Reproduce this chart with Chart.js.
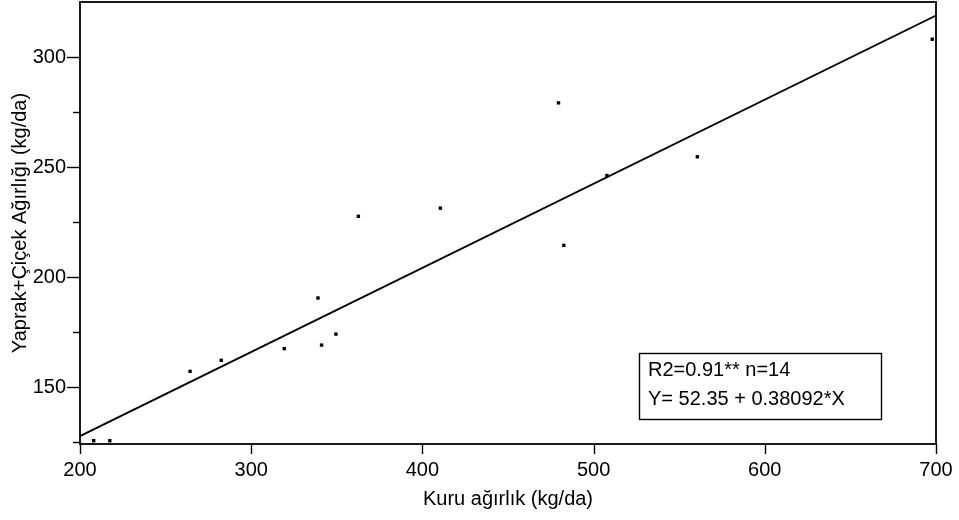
<!DOCTYPE html>
<html>
<head>
<meta charset="utf-8">
<script src="https://cdn.jsdelivr.net/npm/chart.js@4"></script>
<style>
  html, body { margin: 0; padding: 0; background: #fff; }
  #wrap { width: 959px; height: 520px; }
</style>
</head>
<body>
<div id="wrap"><canvas id="chart" width="959" height="520"></canvas></div>
<script>
// observed points (kuru agirlik, yaprak+cicek agirligi)
const kuruAgirlik = [208, 217.4, 264.3, 282.5, 319.3, 339, 341.1, 349.5, 362.6, 410.5, 479.5, 482.6, 507.8, 560.6, 697.8]
const yaprakCicek = [125.8, 125.8, 157.3, 162.3, 167.6, 190.6, 169.2, 174.2, 227.7, 231.4, 279.2, 214.5, 246.2, 254.7, 308.1]

// regression line end points as drawn
const fitX = [200, 700]
const fitY = [127.9, 318.9]

const xTicks = [200, 300, 400, 500, 600, 700]
const yTicks = [125, 150, 175, 200, 225, 250, 275, 300]

const statLines = ['R2=0.91** n=14', 'Y= 52.35 + 0.38092*X']

const FONT = "'Liberation Sans', Arial, sans-serif"

const framePlugin = {
  id: 'frame',
  afterDraw(chart) {
    const ctx = chart.ctx
    const a = chart.chartArea
    const xs = chart.scales.x
    const ys = chart.scales.y
    ctx.save()
    ctx.strokeStyle = '#000'
    ctx.lineWidth = 1.8
    ctx.strokeRect(a.left, a.top, a.right - a.left, a.bottom - a.top)

    // x ticks (below axis)
    ctx.lineWidth = 1.4
    xTicks.forEach((v) => {
      const px = Math.round(xs.getPixelForValue(v)) + 0.5
      ctx.beginPath()
      ctx.moveTo(px, a.bottom)
      ctx.lineTo(px, a.bottom + 10)
      ctx.stroke()
    })
    // y ticks, long on 50s, short in between
    yTicks.forEach((v) => {
      const py = Math.round(ys.getPixelForValue(v)) + 0.5
      const len = v % 50 === 0 ? 13 : 7
      ctx.beginPath()
      ctx.moveTo(a.left - len, py)
      ctx.lineTo(a.left, py)
      ctx.stroke()
    })

    // stats box
    const bx = 639, by = 353, bw = 242, bh = 66
    ctx.fillStyle = '#fff'
    ctx.fillRect(bx, by, bw, bh)
    ctx.lineWidth = 1.4
    ctx.strokeRect(bx + 0.5, by + 0.5, bw, bh)
    ctx.fillStyle = '#000'
    ctx.font = '20px ' + FONT
    ctx.textBaseline = 'middle'
    ctx.textAlign = 'left'
    ctx.fillText(statLines[0], bx + 9, by + 17)
    ctx.fillText(statLines[1], bx + 9, by + 46)
    ctx.restore()
  }
}

new Chart(document.getElementById('chart'), {
  type: 'scatter',
  data: {
    datasets: [
      {
        label: 'Gözlem',
        data: kuruAgirlik.map((x, i) => ({ x: x, y: yaprakCicek[i] })),
        backgroundColor: '#000',
        borderColor: '#000',
        pointRadius: 2.4,
        pointStyle: 'rect',
        pointBorderWidth: 0
      },
      {
        label: 'Regresyon',
        type: 'line',
        data: fitX.map((x, i) => ({ x: x, y: fitY[i] })),
        borderColor: '#000',
        borderWidth: 1.8,
        pointRadius: 0,
        fill: false
      }
    ]
  },
  options: {
    responsive: false,
    animation: false,
    layout: { autoPadding: false, padding: { top: 2, right: 23, left: 0, bottom: 0 } },
    plugins: {
      legend: { display: false },
      tooltip: { enabled: false }
    },
    scales: {
      x: {
        type: 'linear',
        min: 200,
        max: 700,
        afterBuildTicks: (s) => { s.ticks = xTicks.map((v) => ({ value: v })) },
        afterFit: (s) => {
          s.height = 76
          s.paddingLeft = 0
          s.paddingRight = 0
        },
        grid: { display: false, drawTicks: false },
        border: { display: false },
        ticks: { color: '#000', font: { family: FONT, size: 20 }, padding: 14, maxRotation: 0 },
        title: {
          display: true,
          text: 'Kuru ağırlık (kg/da)',
          color: '#000',
          font: { family: FONT, size: 20 },
          padding: { top: 0, bottom: 9 }
        }
      },
      y: {
        type: 'linear',
        min: 124.3,
        max: 325,
        afterBuildTicks: (s) => { s.ticks = yTicks.map((v) => ({ value: v })) },
        afterFit: (s) => {
          s.width = 80
          s.paddingTop = 0
          s.paddingBottom = 0
        },
        grid: { display: false, drawTicks: false },
        border: { display: false },
        ticks: {
          color: '#000',
          font: { family: FONT, size: 20 },
          padding: 14,
          callback: (v) => (v % 50 === 0 ? String(v) : '')
        },
        title: {
          display: true,
          text: 'Yaprak+Çiçek Ağırlığı (kg/da)',
          color: '#000',
          font: { family: FONT, size: 20 },
          padding: { top: 8, bottom: 0 }
        }
      }
    }
  },
  plugins: [framePlugin]
})
</script>
</body>
</html>
